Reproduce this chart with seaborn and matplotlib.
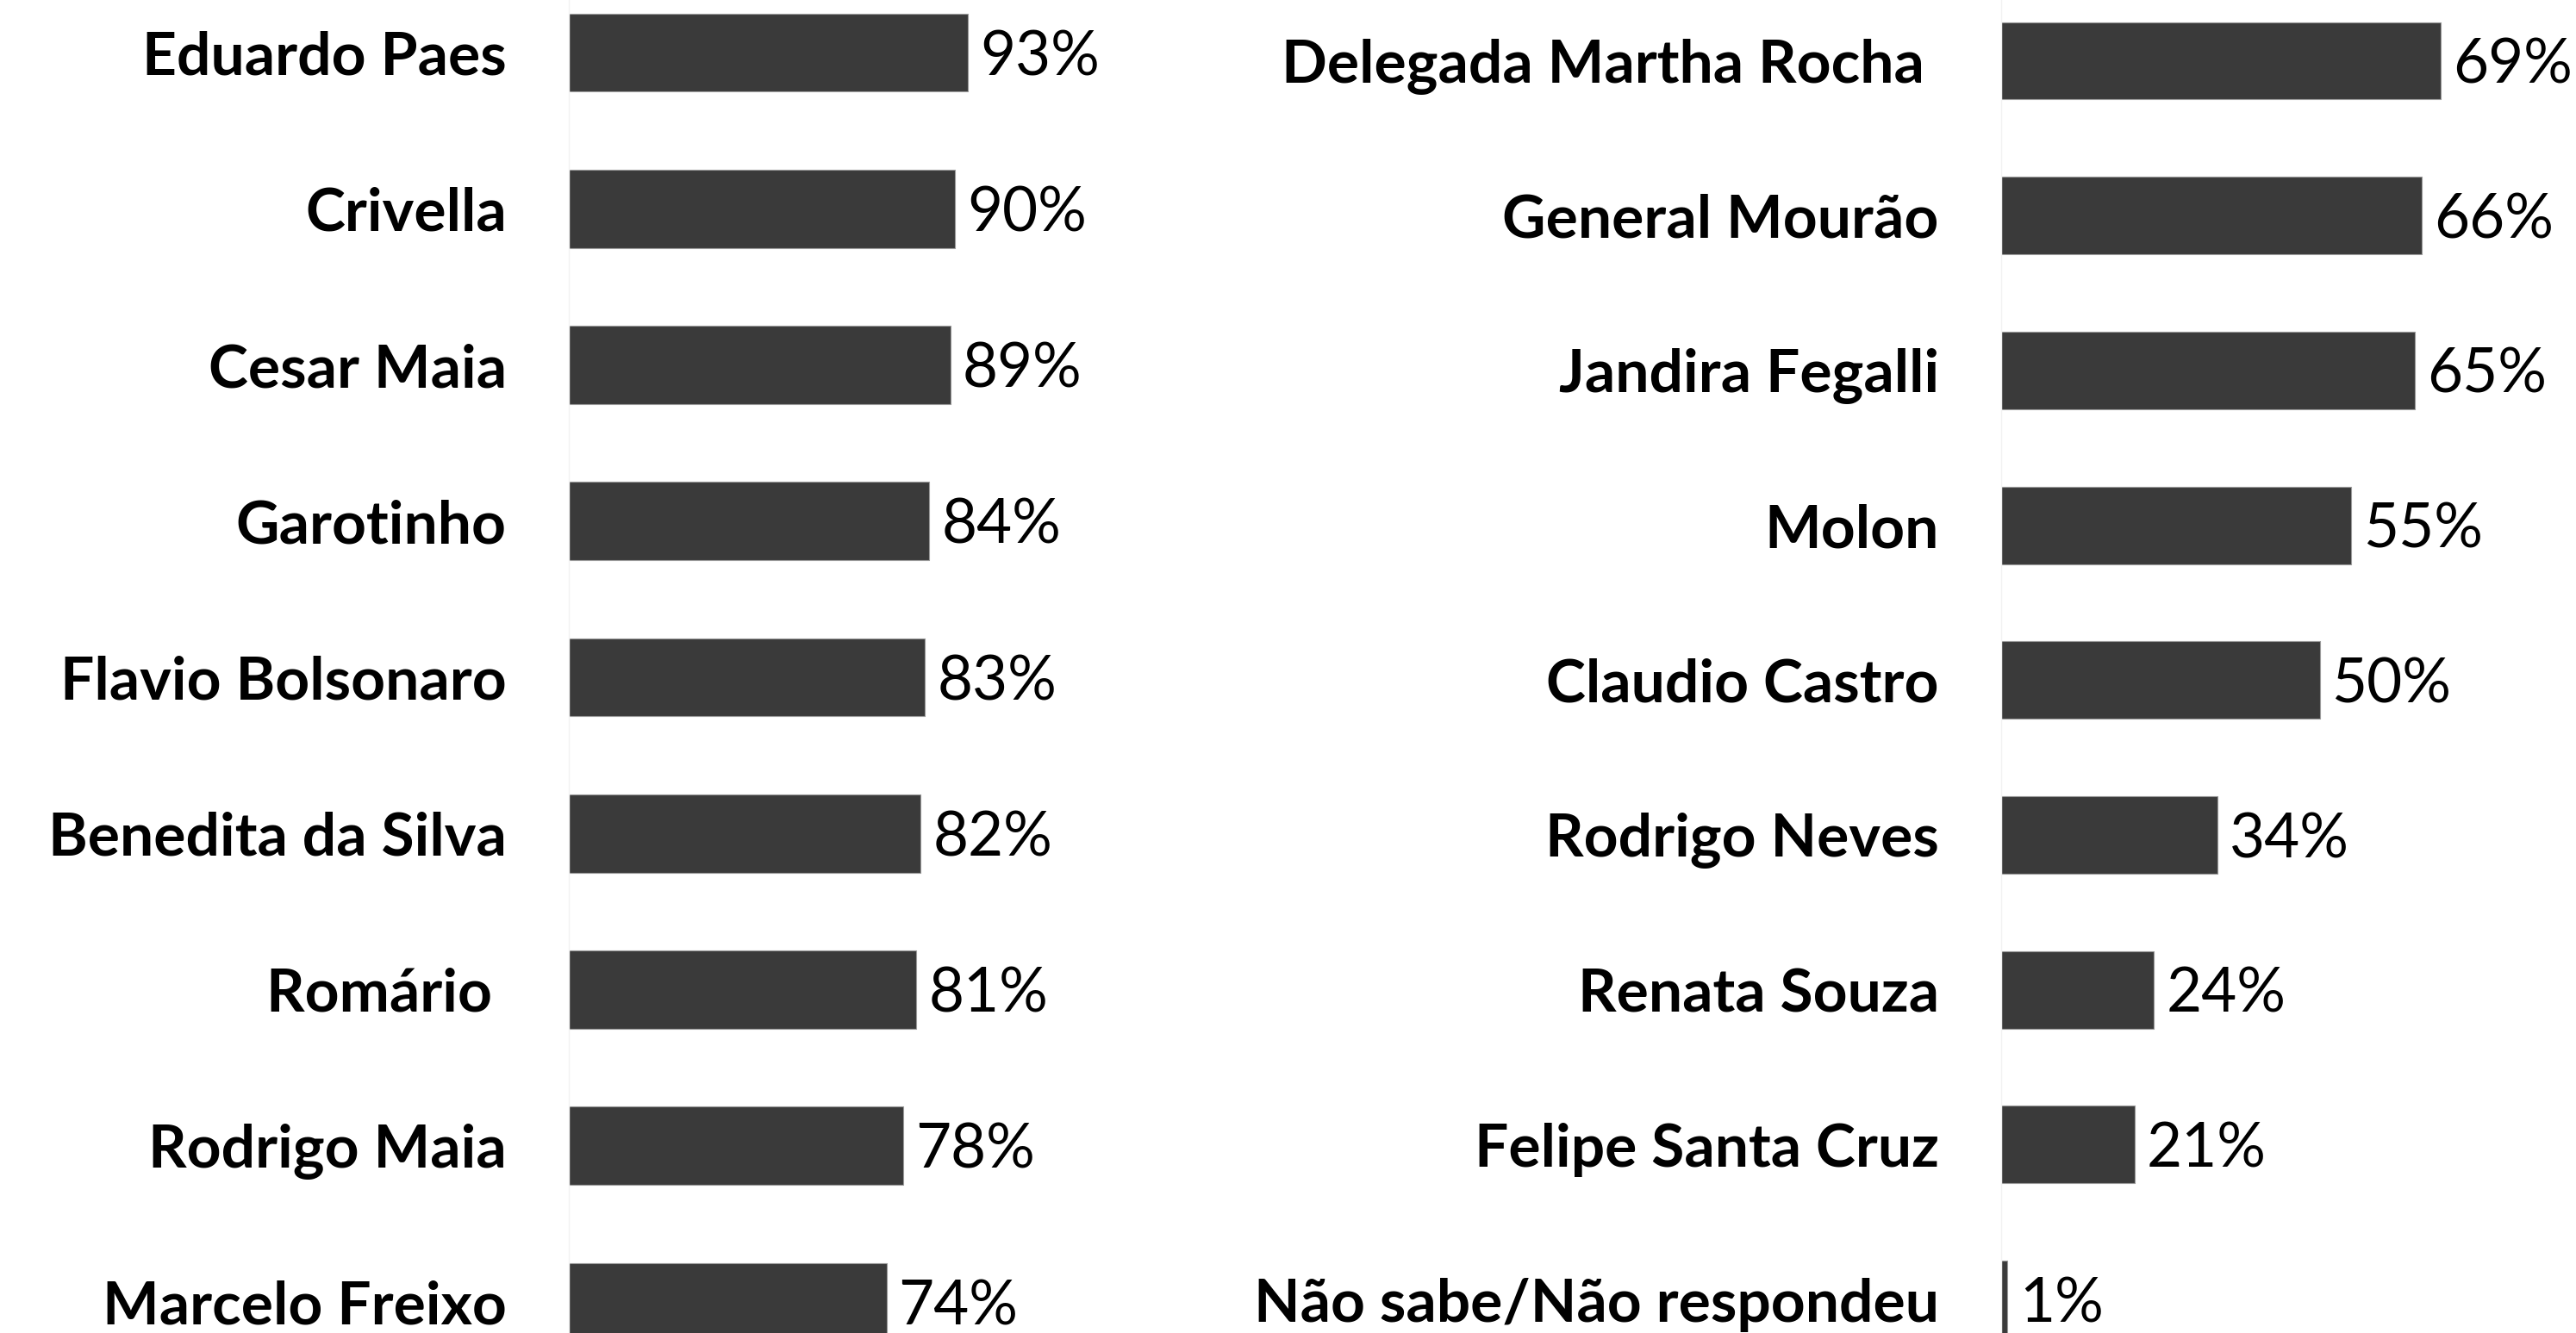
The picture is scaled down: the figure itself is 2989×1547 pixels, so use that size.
import matplotlib
matplotlib.use("Agg")
import matplotlib.pyplot as plt
import seaborn as sns
import pandas as pd

left_names = ["Eduardo Paes", "Crivella", "Cesar Maia", "Garotinho", "Flavio Bolsonaro",
              "Benedita da Silva", "Romário ", "Rodrigo Maia", "Marcelo Freixo"]
left_values = [93, 90, 89, 84, 83, 82, 81, 78, 74]

right_names = ["Delegada Martha Rocha ", "General Mourão", "Jandira Fegalli", "Molon",
               "Claudio Castro", "Rodrigo Neves", "Renata Souza", "Felipe Santa Cruz",
               "Não sabe/Não respondeu"]
right_values = [69, 66, 65, 55, 50, 34, 24, 21, 1]

sns.set_theme(style="white")
plt.rcParams['font.family'] = ['Lato', 'DejaVu Sans']

W, H = 2989, 1547
fig = plt.figure(figsize=(W / 100, H / 100), dpi=100)
fig.patch.set_facecolor("white")

BAR = "#3a3a3a"
FS = 50


def panel(rect, names, values, xmax, ylim):
    ax = fig.add_axes(rect)
    df = pd.DataFrame({"name": names, "value": values})
    sns.barplot(data=df, x="value", y="name", orient="h", color=BAR, width=0.5,
                edgecolor="#9a9a9a", linewidth=0.8, saturation=1, ax=ax)
    ax.set_xlim(0, xmax)
    ax.set_ylim(*ylim)
    ax.set_xlabel("")
    ax.set_ylabel("")
    ax.set_xticks([])
    for s in ["top", "right", "bottom"]:
        ax.spines[s].set_visible(False)
    ax.spines["left"].set_color("#f2f2f2")
    ax.spines["left"].set_linewidth(1)
    ax.tick_params(axis="y", length=0, pad=52)
    for lab in ax.get_yticklabels():
        lab.set_fontsize(FS)
        lab.set_fontweight("bold")
        lab.set_color("black")
    ax.set_yticks([i + 0.5 for i in range(len(names) - 1)], minor=True)
    ax.tick_params(axis="y", which="minor", length=19, color="#f2f2f2", width=1)
    ax.patch.set_alpha(0)
    for c in ax.containers:
        anns = ax.bar_label(c, labels=[f"{v}%" for v in values], padding=10,
                            fontsize=51, color="black")
        for a in anns:
            a.xyann = (10, -4)
    return ax


panel([660 / W, 0, 740 / W, 1], left_names, left_values, 740 / 4.98,
      ((H - 61) / 181.25, -61 / 181.25))
panel([2322 / W, 0, 667 / W, 1], right_names, right_values, 667 / 7.39,
      ((H - 70.5) / 179.7, -70.5 / 179.7))

fig.savefig("out.png", dpi=100, facecolor="white")
